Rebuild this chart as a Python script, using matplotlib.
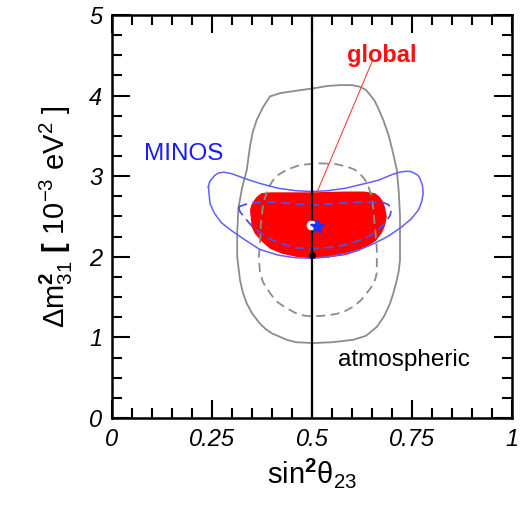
import matplotlib
matplotlib.use("Agg")
import matplotlib.pyplot as plt
from matplotlib.ticker import MultipleLocator, FixedLocator, FixedFormatter

plt.rcParams['font.family'] = ['Liberation Sans', 'DejaVu Sans']
plt.rcParams['mathtext.fontset'] = 'custom'
plt.rcParams['mathtext.rm'] = 'Liberation Sans'
plt.rcParams['mathtext.it'] = 'Liberation Sans:italic'
plt.rcParams['mathtext.bf'] = 'Liberation Sans:bold'

# ---- data ----
atm90_x = [0.503, 0.54, 0.57, 0.60, 0.62, 0.635, 0.645, 0.656, 0.665, 0.678, 0.692, 0.703, 0.712,
           0.717, 0.72, 0.72, 0.72, 0.717, 0.712, 0.704, 0.695, 0.68, 0.662, 0.635, 0.603,
           0.55, 0.503, 0.46, 0.437, 0.40, 0.385, 0.37, 0.35, 0.337, 0.327, 0.32, 0.313,
           0.313, 0.316, 0.325, 0.337, 0.345, 0.352, 0.362, 0.378, 0.395, 0.42, 0.46, 0.503]
atm90_y = [4.09, 4.12, 4.13, 4.13, 4.11, 4.07, 4.01, 3.94, 3.85, 3.70, 3.50, 3.28, 3.08,
           2.80, 2.50, 2.20, 1.96, 1.83, 1.71, 1.56, 1.42, 1.26, 1.13, 1.02, 0.97,
           0.94, 0.93, 0.94, 0.97, 1.05, 1.10, 1.17, 1.30, 1.42, 1.56, 1.71, 2.00,
           2.30, 2.60, 2.85, 3.08, 3.37, 3.55, 3.70, 3.86, 3.99, 4.03, 4.06, 4.09]

atm68_x = [0.52, 0.56, 0.587, 0.607, 0.62, 0.632, 0.641, 0.648, 0.652, 0.6575, 0.662, 0.662,
           0.658, 0.652, 0.637, 0.622, 0.603, 0.58, 0.56, 0.53, 0.503, 0.48, 0.46, 0.437,
           0.41, 0.395, 0.378, 0.37, 0.367, 0.37, 0.372, 0.378, 0.385, 0.39, 0.40, 0.41,
           0.437, 0.47, 0.52]
atm68_y = [3.16, 3.15, 3.12, 3.08, 3.03, 2.96, 2.87, 2.77, 2.65, 2.37, 2.10, 1.80,
           1.72, 1.65, 1.55, 1.46, 1.38, 1.32, 1.29, 1.27, 1.26, 1.27, 1.30, 1.36,
           1.45, 1.55, 1.68, 1.80, 2.00, 2.17, 2.40, 2.66, 2.77, 2.85, 2.93, 3.00,
           3.08, 3.14, 3.16]

minos90_x = [0.241, 0.244, 0.25, 0.257, 0.266, 0.28, 0.30, 0.3325, 0.37, 0.416, 0.46, 0.499,
             0.54, 0.583, 0.625, 0.666, 0.70, 0.72, 0.7325, 0.745, 0.755, 0.765, 0.77, 0.776,
             0.778, 0.774, 0.766, 0.748, 0.724, 0.692, 0.6575, 0.62, 0.583, 0.54, 0.499,
             0.456, 0.416, 0.37, 0.3325, 0.30, 0.274, 0.256, 0.245, 0.241]
minos90_y = [2.87, 2.93, 2.97, 3.01, 3.04, 3.05, 3.03, 2.97, 2.91, 2.85, 2.82, 2.81,
             2.82, 2.85, 2.90, 2.95, 3.02, 3.05, 3.06, 3.06, 3.04, 3.01, 2.97, 2.89,
             2.79, 2.68, 2.58, 2.47, 2.37, 2.26, 2.17, 2.09, 2.04, 2.00, 1.98,
             1.99, 2.02, 2.09, 2.21, 2.32, 2.42, 2.54, 2.66, 2.87]

minos68_x = [0.316, 0.34, 0.374, 0.41, 0.45, 0.499, 0.56, 0.624, 0.674, 0.69, 0.699, 0.695,
             0.6825, 0.665, 0.641, 0.605, 0.566, 0.53, 0.499, 0.465, 0.4325, 0.40, 0.374,
             0.35, 0.3325, 0.32, 0.316]
minos68_y = [2.62, 2.66, 2.68, 2.68, 2.66, 2.64, 2.66, 2.68, 2.68, 2.65, 2.60, 2.51,
             2.42, 2.33, 2.25, 2.18, 2.13, 2.11, 2.10, 2.11, 2.15, 2.21, 2.29,
             2.38, 2.48, 2.56, 2.62]

global_x = [0.345, 0.348, 0.355, 0.363, 0.374, 0.395, 0.42, 0.499, 0.58, 0.63, 0.657, 0.668,
            0.676, 0.683, 0.687, 0.683, 0.674, 0.66, 0.641, 0.615, 0.583, 0.54, 0.499,
            0.46, 0.424, 0.395, 0.374, 0.358, 0.349, 0.345]
global_y = [2.58, 2.64, 2.70, 2.75, 2.79, 2.80, 2.80, 2.80, 2.81, 2.81, 2.79, 2.75,
            2.70, 2.61, 2.50, 2.39, 2.29, 2.20, 2.13, 2.07, 2.02, 1.99, 1.98,
            2.00, 2.04, 2.10, 2.19, 2.28, 2.37, 2.58]

bf_global = (0.497, 2.40)
bf_minos = (0.513, 2.38)
bf_atm = (0.50, 2.02)
maximal_mixing = 0.5

arrow_start = (0.65, 4.42)
arrow_end = (0.515, 2.83)

x_ticks = [0, 0.25, 0.5, 0.75, 1]
x_tick_labels = ['0', '0.25', '0.5', '0.75', '1']
y_ticks = [0, 1, 2, 3, 4, 5]
y_tick_labels = ['0', '1', '2', '3', '4', '5']

# ---- figure ----
fig = plt.figure(figsize=(5.25, 5.05), dpi=100)
ax = fig.add_axes([112/525, 1-418/505, 400/525, 403/505])

ax.fill(global_x, global_y, color='#ff0000', lw=0, zorder=1)
ax.plot(atm90_x, atm90_y, color='#8c8c8c', lw=1.3, zorder=2)
ax.plot(atm68_x, atm68_y, color='#8c8c8c', lw=1.3, ls=(0, (5, 3)), zorder=2)
ax.plot(minos90_x, minos90_y, color='#6060ff', lw=1.1, zorder=3)
ax.plot(minos68_x, minos68_y, color='#5050e6', lw=1.3, ls=(0, (5, 3)), zorder=3)
ax.axvline(maximal_mixing, color='black', lw=1.6, zorder=4)
ax.plot(*zip(arrow_start, arrow_end), color='#ff4040', lw=0.8, zorder=4)

ax.plot([bf_atm[0]], [bf_atm[1]], 'o', color='black', ms=4, zorder=5)
ax.plot([bf_global[0]], [bf_global[1]], 'o', color='white', ms=6, zorder=5)
ax.plot([bf_minos[0]], [bf_minos[1]], '*', color='#2030ff', ms=10, zorder=6)

ax.text(0.675, 4.50, 'global', color='#ff1010', fontsize=17, fontweight='bold',
        ha='center', va='center')
ax.text(0.18, 3.27, 'MINOS', color='#1a1aff', fontsize=17.5,
        ha='center', va='center')
ax.text(0.73, 0.72, 'atmospheric', color='black', fontsize=17.5,
        ha='center', va='center')

ax.set_xlim(0, 1)
ax.set_ylim(0, 5)
ax.xaxis.set_major_locator(FixedLocator(x_ticks))
ax.xaxis.set_major_formatter(FixedFormatter(x_tick_labels))
ax.yaxis.set_major_locator(FixedLocator(y_ticks))
ax.yaxis.set_major_formatter(FixedFormatter(y_tick_labels))
ax.xaxis.set_minor_locator(MultipleLocator(0.05))
ax.yaxis.set_minor_locator(MultipleLocator(0.25))
ax.tick_params(which='both', direction='in', top=True, right=True, width=1.5)
ax.tick_params(which='major', length=13, pad=7, labelsize=17)
ax.tick_params(which='minor', length=7)
for lab in ax.get_xticklabels() + ax.get_yticklabels():
    lab.set_fontstyle('italic')
for s in ax.spines.values():
    s.set_linewidth(1.8)

ax.set_xlabel('sin$^{\\mathbf{2}}$θ$_{23}$', fontsize=21, labelpad=4)
ax.set_ylabel(r'$\Delta$m$^{\mathbf{2}}_{31}$ $\mathbf{[}$ 10$^{-3}$ eV$^{2}$ ]', fontsize=21, labelpad=10)

fig.savefig('out.png', dpi=100)
